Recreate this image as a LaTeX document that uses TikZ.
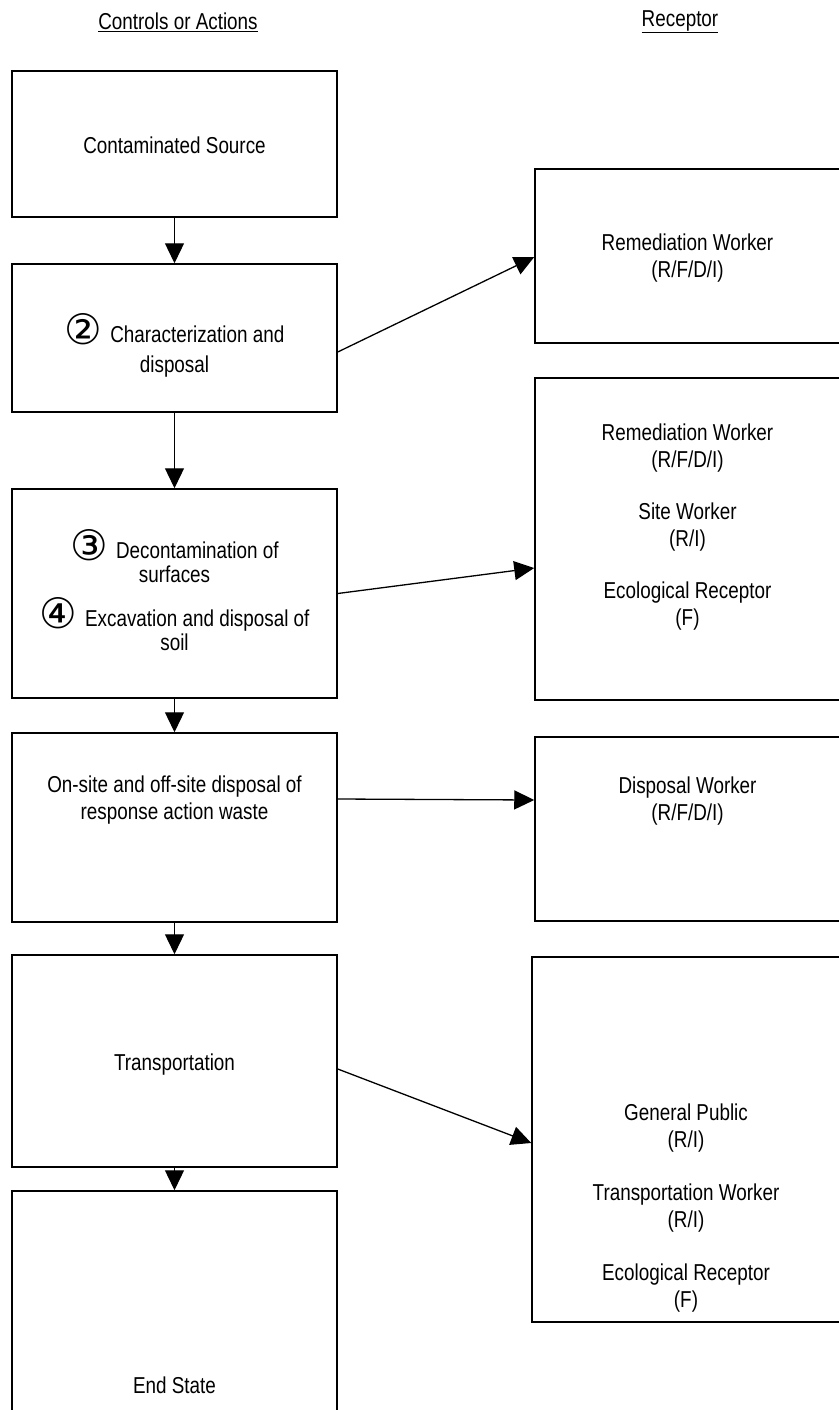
\documentclass[tikz,border=0pt]{standalone}
\usepackage{fontspec}
\setmainfont{Liberation Sans}[FakeStretch=0.82]
\newfontfamily\circfont{DejaVu Sans}
\usetikzlibrary{arrows.meta,calc}
\newcommand\circnum[1]{\smash{\raisebox{-2pt}{\circfont\fontsize{42}{42}\selectfont #1}}\hspace{8pt}}
\begin{document}
\begin{tikzpicture}[x=1pt,y=-1pt,
  lbox/.style={draw, line width=1.5pt, inner sep=0pt, minimum width=325pt},
  rbox/.style={draw, line width=1.5pt, inner sep=0pt, minimum width=305pt},
  txt/.style={align=center, inner sep=0pt, font=\fontsize{23}{27}\selectfont},
  hdr/.style={inner sep=0pt, font=\fontsize{23}{27}\selectfont},
  arr/.style={line width=1.3pt, -{Triangle[length=20pt,width=19pt]}}]
\useasboundingbox (0,0) rectangle (838,1410);
% headers
\node[hdr] (h1) at (178,22) {\underline{Controls or Actions}};
\node[hdr] (h2) at (680,22) {\underline{Receptor}};
% left boxes
\node[lbox, minimum height=146pt] (b1) at (174.5,144) {};
\node[lbox, minimum height=148pt] (b2) at (174.5,338) {};
\node[lbox, minimum height=209pt] (b3) at (174.5,593.5) {};
\node[lbox, minimum height=189pt] (b4) at (174.5,827.5) {};
\node[lbox, minimum height=212pt] (b5) at (174.5,1061) {};
\node[lbox, minimum height=249pt] (b6) at (174.5,1315.5) {};
% right boxes
\node[rbox, minimum height=174pt] (r1) at (687.5,256) {};
\node[rbox, minimum height=322pt] (r2) at (687.5,539) {};
\node[rbox, minimum height=184pt] (r3) at (687.5,829) {};
\node[rbox, minimum width=308pt, minimum height=365pt] (r4) at (686,1139.5) {};
% left texts
\node[txt] (t1) at (174.5,145) {Contaminated Source};
\node[txt] (t2) at (174.5,352) {\circnum{②}Characterization and\\[3pt]disposal};
\node[txt, font=\fontsize{23}{24}\selectfont] (t3) at (174.5,596) {\circnum{③}Decontamination of\\surfaces\\[20pt]\circnum{④}Excavation and disposal of\\soil};
\node[txt] (t4) at (174.5,800) {On-site and off-site disposal of\\response action waste};
\node[txt] (t5) at (174.5,1065) {Transportation};
\node[txt] (t6) at (174.5,1385) {End State};
% right texts
\node[txt] (s1) at (687.5,258.5) {Remediation Worker\\(R/F/D/I)};
\node[txt] (s2) at (687.5,527.5) {Remediation Worker\\(R/F/D/I)\\[25pt]Site Worker\\(R/I)\\[25pt]Ecological Receptor\\(F)};
\node[txt] (s3) at (687.5,801.5) {Disposal Worker\\(R/F/D/I)};
\node[txt] (s4) at (686,1208) {General Public\\(R/I)\\[26pt]Transportation Worker\\(R/I)\\[26pt]Ecological Receptor\\(F)};
% vertical arrows
\draw[arr] (b1.south) -- (b2.north);
\draw[arr] (b2.south) -- (b3.north);
\draw[arr] (b3.south) -- (b4.north);
\draw[arr] (b4.south) -- (b5.north);
\draw[arr] (b5.south) -- (b6.north);
% arrows to receptors
\draw[arr] ($(b2.east)+(0,14)$) -- ($(r1.west)+(0,1)$);
\draw[arr] (b3.east) -- ($(r2.west)+(0,29)$);
\draw[arr] ($(b4.east)+(0,-28.5)$) -- ($(r3.west)+(0,-29)$);
\draw[arr] ($(b5.east)+(0,8)$) -- ($(r4.west)+(0,3.5)$);
\end{tikzpicture}
\end{document}
